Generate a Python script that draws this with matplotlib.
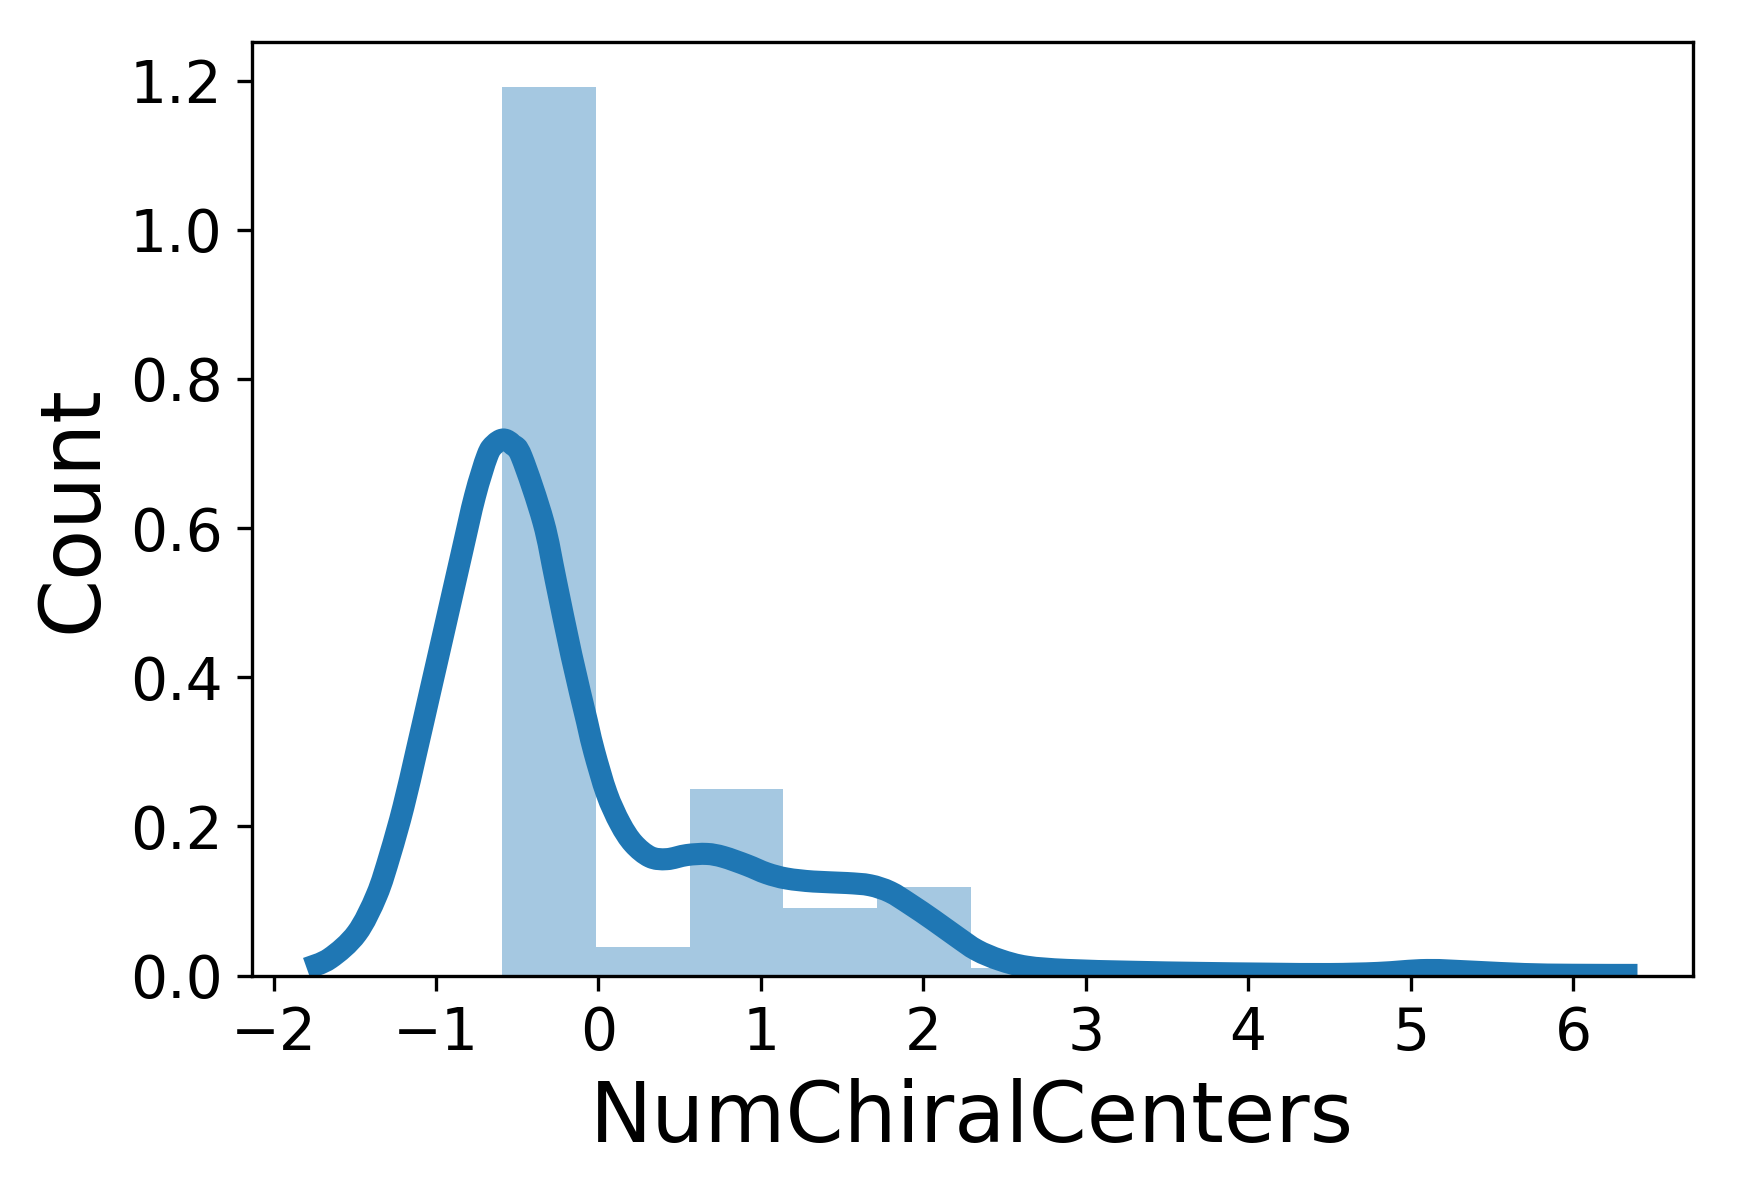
import numpy as np
import matplotlib

matplotlib.use("Agg")
import matplotlib.pyplot as plt
from matplotlib.path import Path
from matplotlib.patches import PathPatch

# --------------------------------------------------------------------------- #
# Data
# --------------------------------------------------------------------------- #
BIN_START = -0.5955
BIN_WIDTH = 0.578
hist_heights = [1.191, 0.038, 0.250, 0.090, 0.118, 0.010, 0.005, 0.004, 0.0, 0.006]

kde_x = [-1.796, -1.653, -1.488, -1.365, -1.283, -1.201, -1.119, -1.037,
         -0.955, -0.842, -0.760, -0.684, -0.640, -0.585, -0.530, -0.472,
         -0.339, -0.263, -0.167, -0.070, -0.026, 0.051, 0.133, 0.215,
         0.318, 0.421, 0.544, 0.667, 0.769, 0.913, 1.036, 1.159, 1.323,
         1.529, 1.672, 1.796, 1.919, 2.062, 2.206, 2.329, 2.473, 2.637,
         2.883, 3.294, 3.704, 4.115, 4.5, 4.8, 5.1, 5.4, 5.7, 6.0, 6.397]
kde_y = [0.0096, 0.023, 0.0566, 0.108, 0.162, 0.226, 0.302, 0.380,
         0.458, 0.566, 0.643, 0.697, 0.712, 0.7187, 0.712, 0.695,
         0.608, 0.530, 0.430, 0.340, 0.300, 0.244, 0.204, 0.177,
         0.159, 0.156, 0.1615, 0.163, 0.159, 0.148, 0.137, 0.130, 0.126,
         0.124, 0.121, 0.112, 0.0955, 0.0744, 0.052, 0.034, 0.0208, 0.0118,
         0.0075, 0.005, 0.0035, 0.0025, 0.002, 0.0035, 0.0074, 0.005, 0.002, 0.001, 0.0008]

x_ticks = [-2, -1, 0, 1, 2, 3, 4, 5, 6]
y_ticks = [0.0, 0.2, 0.4, 0.6, 0.8, 1.0, 1.2]


def smooth_path(xs, ys):
    """Bezier path passing through the read points (Catmull-Rom handles)."""
    p = np.column_stack([xs, ys])
    p = np.vstack([p[0], p, p[-1]])
    verts, codes = [tuple(p[1])], [Path.MOVETO]
    for i in range(1, len(p) - 2):
        c1 = p[i] + (p[i + 1] - p[i - 1]) / 6
        c2 = p[i + 1] - (p[i + 2] - p[i]) / 6
        verts += [tuple(c1), tuple(c2), tuple(p[i + 1])]
        codes += [Path.CURVE4] * 3
    return Path(verts, codes)


# --------------------------------------------------------------------------- #
# Plot
# --------------------------------------------------------------------------- #
plt.rcParams["font.family"] = "DejaVu Sans"

fig = plt.figure(figsize=(1737 / 300, 1179 / 300), dpi=300)
ax = fig.add_axes([0.1449, 0.1726, 0.8296, 0.7920])

edges = BIN_START + BIN_WIDTH * np.arange(len(hist_heights))
ax.bar(edges, hist_heights, width=BIN_WIDTH, align="edge",
       color="#1f77b4", alpha=0.4, linewidth=0)
ax.add_patch(PathPatch(smooth_path(kde_x, kde_y), fill=False,
                       edgecolor="#1f77b4", lw=5.3,
                       joinstyle="round", capstyle="butt"))

ax.set_xlim(-2.135, 6.737)
ax.set_ylim(0, 1.252)
ax.set_xticks(x_ticks)
ax.set_yticks(y_ticks)
ax.tick_params(labelsize=14)
ax.set_xlabel("NumChiralCenters", fontsize=20)
ax.set_ylabel("Count", fontsize=20)

fig.savefig("out.png", dpi=300)
